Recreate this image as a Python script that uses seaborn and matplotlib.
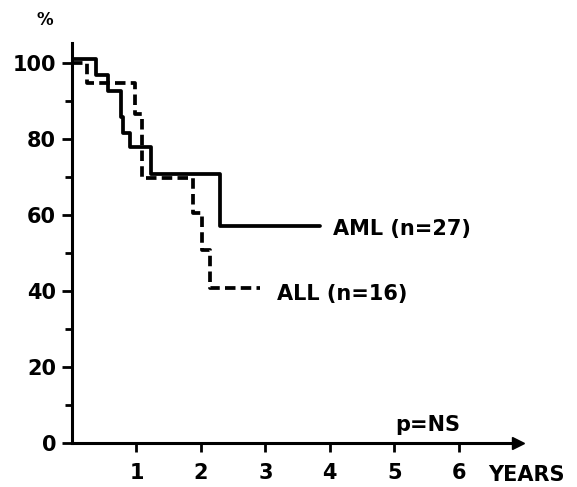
import pandas as pd
import matplotlib
matplotlib.use("Agg")
import matplotlib.pyplot as plt
import seaborn as sns

# survival curves (years, % surviving)
aml_years = [0, 0.37, 0.56, 0.755, 0.795, 0.90, 1.22, 2.29, 3.84]
aml_pct = [101, 97, 92.7, 85.7, 81.5, 78, 70.8, 57, 57]
all_years = [0, 0.23, 0.98, 1.08, 1.88, 2.01, 2.14, 2.91]
all_pct = [100, 94.7, 86.6, 69.7, 60.5, 50.8, 40.8, 40.8]

x_ticks = [1, 2, 3, 4, 5, 6]
y_ticks = [0, 20, 40, 60, 80, 100]
y_minor = [10, 30, 50, 70, 90]

aml = pd.DataFrame({"years": aml_years, "pct": aml_pct})
acute = pd.DataFrame({"years": all_years, "pct": all_pct})

sns.set_style("ticks")
plt.rcParams["font.family"] = ["DejaVu Sans"]
plt.rcParams["font.weight"] = "bold"
plt.rcParams["text.color"] = "black"

fig = plt.figure(figsize=(5.77, 4.87), dpi=100)
ax = fig.add_axes([0.1248, 0.0903, 0.773, 0.8214])

sns.lineplot(data=aml, x="years", y="pct", ax=ax, color="black", lw=2.7,
             drawstyle="steps-post", estimator=None, sort=False)
sns.lineplot(data=acute, x="years", y="pct", ax=ax, color="black", lw=2.7,
             drawstyle="steps-post", estimator=None, sort=False)
ax.lines[1].set_linestyle((0, (2.8, 1.4)))

ax.set_xlim(0, 6.92)
ax.set_ylim(0, 105.3)
ax.set_xticks(x_ticks)
ax.set_yticks(y_ticks)
ax.set_yticks(y_minor, minor=True)
ax.set_xlabel("")
ax.set_ylabel("")

for side in ["top", "right"]:
    ax.spines[side].set_visible(False)
for side in ["left", "bottom"]:
    ax.spines[side].set_linewidth(2.2)
    ax.spines[side].set_color("black")

ax.tick_params(axis="x", length=6.5, width=2, pad=8, labelsize=15, colors="black")
ax.tick_params(axis="y", which="major", length=7.5, width=2, pad=4, labelsize=15, colors="black")
ax.tick_params(axis="y", which="minor", length=5, width=2, colors="black")
for lab in ax.get_xticklabels() + ax.get_yticklabels():
    lab.set_fontweight("bold")

# arrow head at end of x axis
ax.plot(1, 0, ">", color="black", ms=9, transform=ax.transAxes, clip_on=False)

ax.text(4.05, 56.3, "AML (n=27)", fontsize=15, fontweight="bold", va="center", ha="left", color="black")
ax.text(3.18, 39.2, "ALL (n=16)", fontsize=15, fontweight="bold", va="center", ha="left", color="black")
ax.text(6.02, 4.7, "p=NS", fontsize=15, fontweight="bold", va="center", ha="right", color="black")
fig.text(488 / 577, 1 - 475 / 487, "YEARS", fontsize=15, fontweight="bold", va="center", ha="left", color="black")
fig.text(45 / 577, 1 - 20 / 487, "%", fontsize=12, fontweight="bold", va="center", ha="center", color="black")

fig.savefig("out.png", dpi=100)
